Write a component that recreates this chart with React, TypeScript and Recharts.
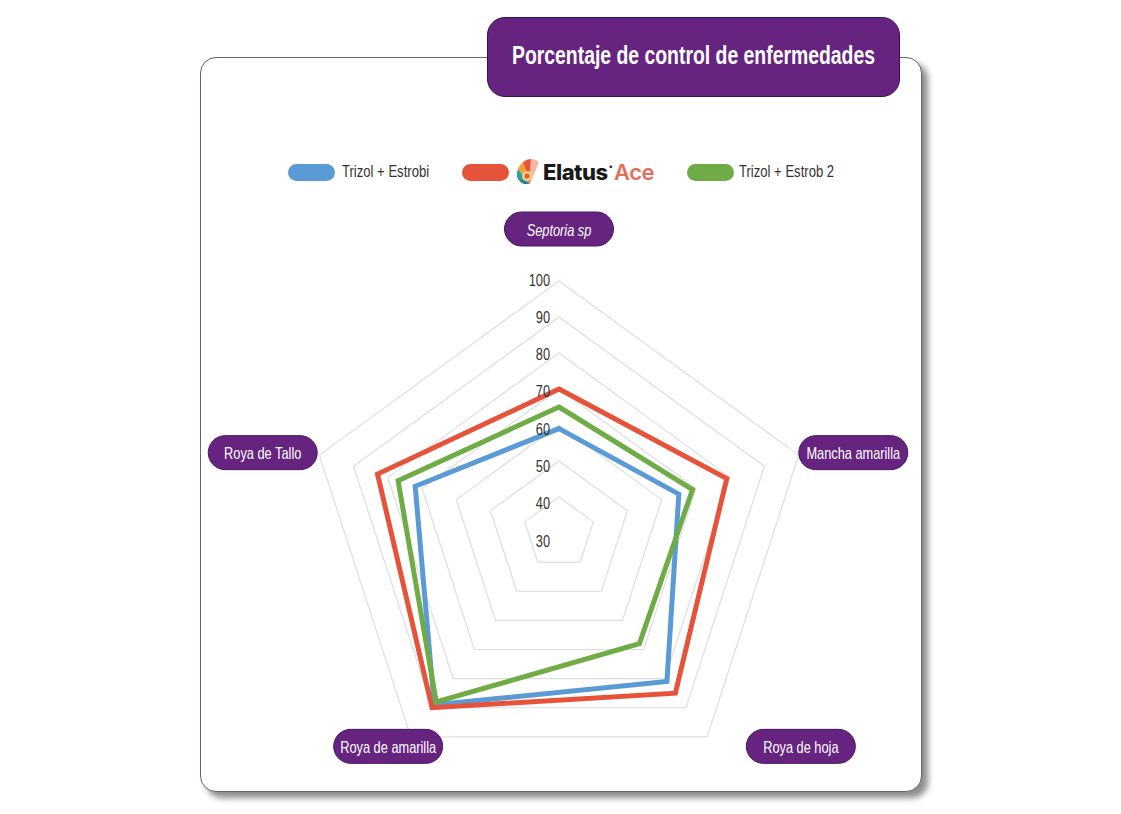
import React, { useLayoutEffect, useRef, useState } from "react";
import { RadarChart, Radar, PolarGrid, PolarAngleAxis, PolarRadiusAxis, Legend } from "recharts";

const CATEGORIES = ["Septoria sp", "Mancha amarilla", "Roya de hoja", "Roya de amarilla", "Roya de Tallo"];
const TRIZOL_ESTROBI = [59, 65, 81, 89, 72];
const ELATUS_ACE = [70, 79, 85, 90, 83];
const TRIZOL_ESTROB_2 = [65, 69, 68, 88, 77];
const RADIUS_TICKS = [30, 40, 50, 60, 70, 80, 90, 100];

const SERIES = [
  { key: "trizol", name: "Trizol + Estrobi", color: "#5b9bd5" },
  { key: "trizol2", name: "Trizol + Estrob 2", color: "#6fac46" },
  { key: "elatus", name: "Elatus Ace", color: "#e5533b" },
];
const LEGEND_ORDER = ["trizol", "elatus", "trizol2"];

const data = CATEGORIES.map((category, i) => ({
  category,
  trizol: TRIZOL_ESTROBI[i],
  elatus: ELATUS_ACE[i],
  trizol2: TRIZOL_ESTROB_2[i],
}));

const SANS = '"Liberation Sans", Arial, sans-serif';
const SQUEEZE = 0.8; // fake a condensed face
const PURPLE = "#662380";

// nudges that move each category pill off the tick anchor
const LABEL_NUDGE = [
  [0, -44],
  [47, 0],
  [89, 3],
  [-18, 3],
  [-49, 0],
];

function AngleTick(props: any) {
  const { x, y, payload, index } = props;
  const [dx, dy] = LABEL_NUDGE[index] || [0, 0];
  const cx = x + dx;
  const cy = y + dy;
  return (
    <g>
      <rect x={cx - 54.5} y={cy - 17} width={109} height={34} rx={17} fill={PURPLE} stroke="#4a1560" strokeWidth={1} />
      <text
        transform={`translate(${cx},${cy + 1}) scale(${SQUEEZE},1)`}
        textAnchor="middle"
        dominantBaseline="central"
        fill="#fff"
        fontSize={16}
        fontFamily={SANS}
        fontStyle={index === 0 ? "italic" : "normal"}
      >
        {payload.value}
      </text>
    </g>
  );
}

function RadiusTick(props: any) {
  const { x, y, payload } = props;
  const shift = -1 + ((100 - payload.value) * 9) / 70;
  return (
    <text
      transform={`translate(${x - 9},${y + shift}) scale(${SQUEEZE},1)`}
      textAnchor="end"
      dominantBaseline="central"
      fill="#333"
      fontSize={16}
      fontFamily={SANS}
    >
      {payload.value}
    </text>
  );
}

// text squeezed horizontally so it spans `width` px
function SqueezedText({ text, width, height, size, weight, color, x = 0 }: any) {
  const ref = useRef<SVGTextElement>(null);
  const [k, setK] = useState(SQUEEZE);
  useLayoutEffect(() => {
    const len = ref.current?.getComputedTextLength();
    if (len) setK(width / len);
  }, [text, width]);
  return (
    <svg width={width + x * 2} height={height} style={{ display: "block", overflow: "visible" }}>
      <text
        ref={ref}
        transform={`translate(${x},${height / 2}) scale(${k},1)`}
        dominantBaseline="central"
        fontSize={size}
        fontWeight={weight}
        fontFamily={SANS}
        fill={color}
      >
        {text}
      </text>
    </svg>
  );
}

function ElatusLogo() {
  return (
    <span style={{ display: "inline-flex", alignItems: "center" }}>
      <svg width={26} height={28} viewBox="0 0 26 28">
        <path d="M14 26 L2 11 A14 14 0 0 1 7 4 Z" fill="#f0a23a" />
        <path d="M14 26 L7 4 A14 14 0 0 1 15 1 Z" fill="#e8553d" />
        <path d="M14 26 L15 1 A14 14 0 0 1 23 4 Z" fill="#f3b9a0" />
        <path d="M14 26 L2 11 A14 14 0 0 0 1 19 Z" fill="#2aa39a" />
        <path d="M14 26 L1 19 A14 14 0 0 0 8 26 Z" fill="#1e7f8c" />
        <circle cx={11} cy={18} r={5} fill="#f6d27a" />
        <circle cx={11} cy={18} r={2.5} fill="#e8553d" />
      </svg>
      <span style={{ fontFamily: "Inter, sans-serif", fontWeight: 800, fontSize: 22, color: "#1a1a1a", marginLeft: 1, letterSpacing: -0.5 }}>
        Elatus
      </span>
      <span style={{ fontFamily: "Inter, sans-serif", fontSize: 8, color: "#1a1a1a", alignSelf: "flex-start", marginTop: 3, marginLeft: 1 }}>•</span>
      <span style={{ fontFamily: "Inter, sans-serif", fontWeight: 600, fontSize: 22, color: "#e0705e", marginLeft: 1, letterSpacing: -0.5 }}>
        Ace
      </span>
    </span>
  );
}

const LEGEND_TEXT_WIDTH: Record<string, number> = { trizol: 87, trizol2: 95 };

function LegendContent() {
  return (
    <div style={{ display: "flex", alignItems: "center" }}>
      {LEGEND_ORDER.map((k, i) => {
        const s = SERIES.find((v) => v.key === k)!;
        return (
          <div key={k} style={{ display: "flex", alignItems: "center", gap: k === "trizol2" ? 5 : 7, marginLeft: i === 0 ? 0 : 33 }}>
            <span style={{ width: 47, height: 17, borderRadius: 9, background: s.color, display: "inline-block" }} />
            {k === "elatus" ? (
              <ElatusLogo />
            ) : (
              <SqueezedText text={s.name} width={LEGEND_TEXT_WIDTH[k]} height={20} size={16} weight={400} color="#333" />
            )}
          </div>
        );
      })}
    </div>
  );
}

export default function App() {
  return (
    <div style={{ position: "absolute", left: 0, top: 0, width: 1121, height: 814, background: "#fff" }}>
      <div
        style={{
          position: "absolute",
          left: 200,
          top: 57,
          width: 720,
          height: 733,
          border: "1.5px solid #666",
          borderRadius: 16,
          background: "#fff",
          boxShadow: "6px 6px 6px rgba(0,0,0,0.45)",
        }}
      />
      <div style={{ position: "absolute", left: 0, top: 0 }}>
        <RadarChart width={1121} height={814} data={data} cx={559} cy={533} outerRadius={252} margin={{ top: 0, right: 0, bottom: 0, left: 0 }}>
          <PolarGrid gridType="polygon" radialLines={false} stroke="#dedede" strokeWidth={1.2} />
          <PolarAngleAxis dataKey="category" tick={AngleTick} tickLine={false} axisLine={false} />
          <PolarRadiusAxis
            angle={90}
            domain={[30, 100]}
            ticks={RADIUS_TICKS as any}
            tickCount={RADIUS_TICKS.length}
            tick={RadiusTick}
            axisLine={false}
            tickLine={false}
          />
          {SERIES.map((s) => (
            <Radar
              key={s.key}
              name={s.name}
              dataKey={s.key}
              stroke={s.color}
              strokeWidth={5}
              fill="none"
              fillOpacity={0}
              dot={false}
              isAnimationActive={false}
            />
          ))}
          <Legend content={LegendContent} wrapperStyle={{ position: "absolute", left: 288, top: 158, width: 620 }} />
        </RadarChart>
      </div>
      <div
        style={{
          position: "absolute",
          left: 487,
          top: 17,
          width: 411,
          height: 78,
          background: PURPLE,
          border: "1px solid #3a1048",
          borderRadius: 18,
        }}
      >
        <div style={{ position: "absolute", left: 0, top: 24 }}>
          <SqueezedText text="Porcentaje de control de enfermedades" width={363} height={28} size={25} weight={700} color="#fff" x={24} />
        </div>
      </div>
    </div>
  );
}
